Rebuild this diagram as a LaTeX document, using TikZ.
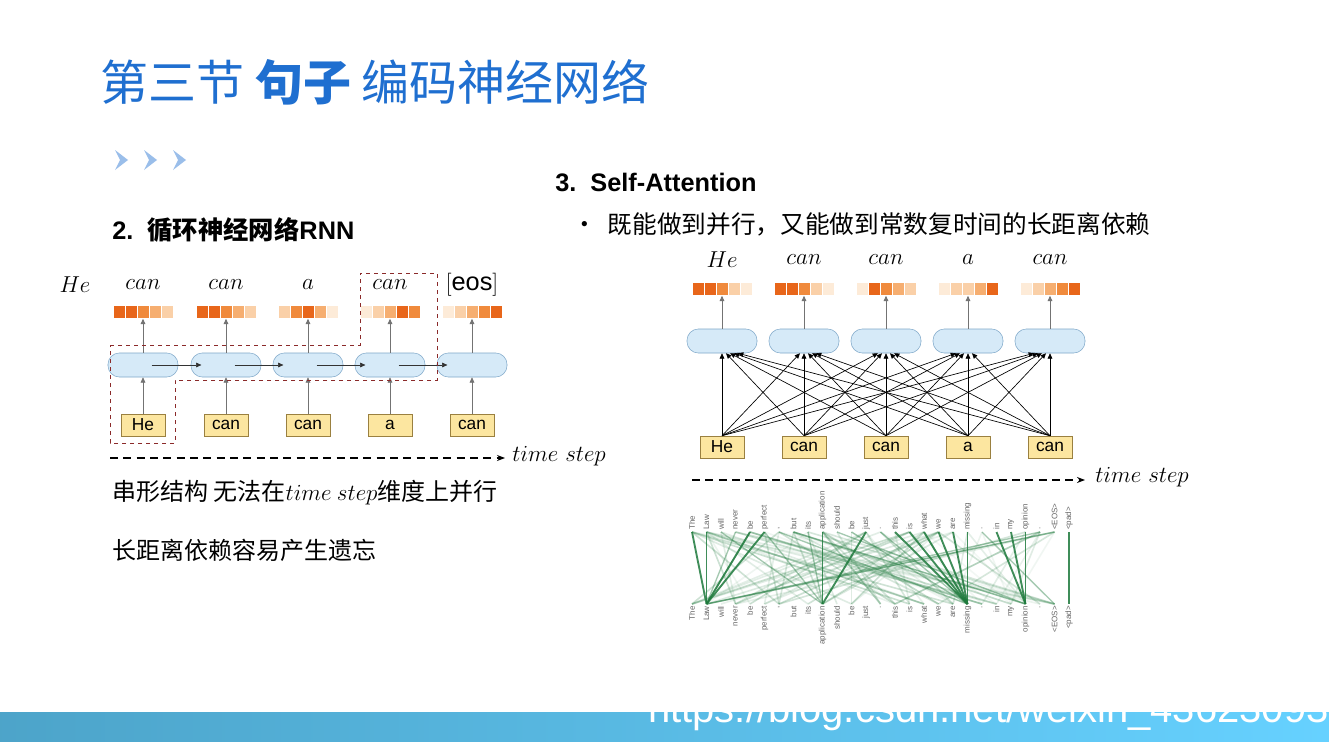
\documentclass[tikz,border=0pt]{standalone}
\usepackage{fontspec}
\setmainfont{Liberation Sans}
\newfontfamily\cjk{Noto Sans CJK SC}
\usetikzlibrary{arrows.meta}
\definecolor{ttl}{HTML}{1F6FD0}
\definecolor{cellf}{HTML}{D6EAF8}
\definecolor{celld}{HTML}{7FA8C9}
\definecolor{inf}{HTML}{FCE6A0}
\definecolor{ind}{HTML}{9A8040}
\definecolor{oA}{HTML}{E8661A}
\definecolor{oB}{HTML}{F08A3C}
\definecolor{oC}{HTML}{F6AE70}
\definecolor{oD}{HTML}{FAD0A8}
\definecolor{oE}{HTML}{FDEBD8}
\definecolor{gr}{HTML}{1E7A3C}
\definecolor{dred}{HTML}{8B2A2A}
\tikzset{
 cellbox/.style={draw=celld,fill=cellf,rounded corners=8.5pt,minimum width=70pt*0.75,minimum height=24pt*0.75,inner sep=0pt},
 inbox/.style={draw=ind,fill=inf,minimum width=44pt*0.75,minimum height=22pt*0.75,inner sep=0pt,font=\fontsize{13}{13}\selectfont},
 outlab/.style={font=\fontsize{19}{19}\selectfont},
 arr/.style={-{Triangle[length=4pt,width=3.5pt]},draw=black!55,line width=0.5pt},
 txt/.style={anchor=west,inner sep=0pt},
 tok/.style={rotate=90,font=\fontsize{6}{6}\selectfont,text=black!60,inner sep=0pt},
}
\newcommand{\obar}[4]{%
  \foreach \cc [count=\k] in #4{
    \fill[\cc,draw=white,line width=0.4pt] ({#2-30+(\k-1)*12},{#3-6.5}) rectangle ++(12,13);}
  \node[minimum width=60pt*0.75,minimum height=13pt*0.75,inner sep=0pt] (#1) at (#2,#3) {};
}
\begin{document}
\begin{tikzpicture}[x=0.75pt,y=-0.75pt]
\useasboundingbox (0,0) rectangle (1329,742);
\fill[white] (0,0) rectangle (1329,742);
% bottom bar
\shade[left color=blue!30!cyan!70!black!70,right color=cyan!70!blue!60] (0,712) rectangle (1329,742);
\node[txt,text=white,font=\fontsize{30}{30}\selectfont] (wm) at (648,712) {https://blog.csdn.net/weixin\_43623093};
% title
\node[txt,text=ttl,font=\cjk\fontsize{36}{36}\selectfont] (title) at (100,82) {第三节 \textbf{句子} 编码神经网络};
% chevrons
\foreach \i in {0,1,2}{\fill[ttl!45] ({115+\i*29},150) -- ({128+\i*29},160) -- ({115+\i*29},170) -- ({120+\i*29},160) -- cycle;}
\node[txt,font=\fontsize{19}{19}\selectfont\bfseries] (h2) at (112,230) {2.\ \ {\cjk 循环神经网络}RNN};
\node[txt,font=\fontsize{19}{19}\selectfont\bfseries] (h3) at (555,182) {3.\ \ Self-Attention};
\node[txt,font=\cjk\fontsize{18.5}{18.5}\selectfont] (bul) at (572,224) {•\ \ 既能做到并行，又能做到常数复时间的长距离依赖};
% ---------- RNN
\node[outlab] (He0) at (75,285) {$He$};
\foreach \x/\lab/\inp/\cols [count=\i] in
 {143/can/He/{oA,oA,oB,oC,oD},226/can/can/{oA,oA,oB,oC,oD},308/a/can/{oD,oB,oA,oC,oE},390/can/a/{oE,oD,oC,oA,oB},472/{\mathrm{[eos]}}/can/{oE,oD,oC,oB,oA}}{
  \node[outlab] (rl\i) at (\x,285) {$\lab$};
  \obar{rb\i}{\x}{312}{\cols}
  \node[cellbox] (rc\i) at (\x,365) {};
  \node[inbox] (ri\i) at (\x,425) {\inp};
  \draw[arr] (ri\i) -- (rc\i);
  \draw[arr] (rc\i) -- (rb\i);
}
\foreach \i [evaluate=\i as \j using int(\i+1)] in {1,2,3,4}{\draw[arr,draw=black!80] ([xshift=-20pt]rc\i.east) -- ([xshift=8pt]rc\j.west);}
\draw[dred,dashed,line width=0.7pt] (110,345) -- (360,345) -- (360,273) -- (437,273) -- (437,380) -- (175,380) -- (175,443) -- (110,443) -- cycle;
\coordinate (t1s) at (110,458); \coordinate (t1e) at (505,458);
\draw[dashed,line width=1.2pt,-{Stealth[length=6pt]},dash pattern=on 6pt off 4pt] (t1s) -- (t1e);
\node[txt,font=\fontsize{19}{19}\selectfont] (ts1) at (512,456) {$time\ step$};
\node[txt,font=\cjk\fontsize{18}{18}\selectfont] (r1) at (112,493) {串形结构 无法在$time\ step$维度上并行};
\node[txt,font=\cjk\fontsize{18}{18}\selectfont] (r2) at (112,550) {长距离依赖容易产生遗忘};
% ---------- Self attention
\foreach \x/\lab/\inp/\cols [count=\i] in
 {722/He/He/{oA,oA,oB,oD,oE},804/can/can/{oA,oA,oB,oD,oE},886/can/can/{oE,oA,oB,oC,oD},968/a/a/{oE,oD,oD,oC,oA},1050/can/can/{oE,oD,oC,oB,oA}}{
  \node[outlab] (sl\i) at (\x,260) {$\lab$};
  \obar{sb\i}{\x}{289}{\cols}
  \node[cellbox] (sc\i) at (\x,341) {};
  \node[inbox] (si\i) at (\x,447) {\inp};
  \draw[arr] (sc\i) -- (sb\i);
}
\foreach \i in {1,...,5}{\foreach \j in {1,...,5}{
  \draw[-{Triangle[length=4pt,width=3.5pt]},line width=0.5pt] (si\i.north) -- ([xshift={(\i-\j)*3pt}]sc\j.south);}}
\coordinate (t2s) at (692,480); \coordinate (t2e) at (1085,480);
\draw[dashed,line width=1.2pt,-{Stealth[length=6pt]},dash pattern=on 6pt off 4pt] (t2s) -- (t2e);
\node[txt,font=\fontsize{19}{19}\selectfont] (ts2) at (1095,477) {$time\ step$};
% ---------- attention viz
\foreach \w [count=\i from 0] in {The,Law,will,never,be,perfect,{,},but,its,application,should,be,just,.,this,is,what,we,are,missing,.,in,my,opinion,.,<EOS>,<pad>}{
  \node[tok,anchor=west] (tt\i) at ({692+\i*14.5},530) {\w};
  \node[tok,anchor=east] (tb\i) at ({692+\i*14.5},606) {\w};
}
\pgfmathsetseed{7}
\foreach \n in {1,...,90}{
  \pgfmathsetmacro{\a}{int(random(0,25))}
  \pgfmathsetmacro{\b}{int(random(0,25))}
  \pgfmathsetmacro{\o}{0.05+0.2*rnd}
  \draw[gr,opacity=\o,line width=1.2pt] ({692+\a*14.5},532) -- ({692+\b*14.5},604);
}
\foreach \a/\b in {0/1,1/1,4/1,5/1,9/9,12/9,14/19,15/19,16/19,17/19,18/19,19/19,21/23,22/23,23/23,26/26}{
  \draw[gr,line width=1.4pt,opacity=0.85] ({692+\a*14.5},532) -- ({692+\b*14.5},604);
}
\foreach \a/\b in {2/9,3/1,5/9,8/9,10/23,13/19,24/1,25/1,11/19,7/23,20/25,6/19}{
  \draw[gr,line width=1pt,opacity=0.4] ({692+\a*14.5},532) -- ({692+\b*14.5},604);
}
\end{tikzpicture}
\end{document}
